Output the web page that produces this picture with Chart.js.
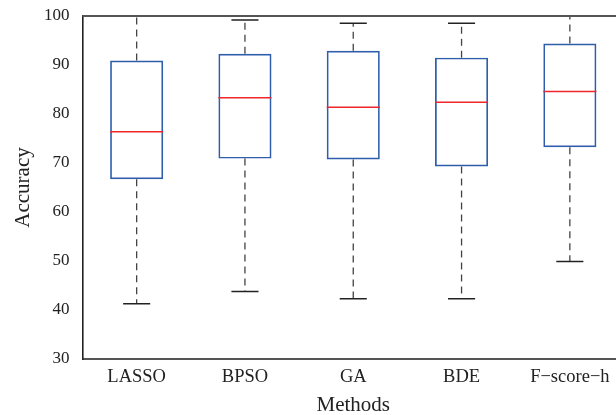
<!DOCTYPE html>
<html>
<head>
<meta charset="utf-8">
<script src="https://cdn.jsdelivr.net/npm/chart.js@4"></script>
<style>
  html, body { margin: 0; padding: 0; background: #fff; overflow: hidden; }
  #wrap { width: 616px; height: 415px; overflow: hidden; }
  canvas { display: block; }
</style>
</head>
<body>
<div id="wrap"><canvas id="boxChart" width="632" height="415"></canvas></div>
<script>
// box plot statistics per method
const methods = ["LASSO", "BPSO", "GA", "BDE", "F\u2212score\u2212h"];
const whiskerLow = [41.3, 43.8, 42.3, 42.3, 49.9];
const q1 = [66.7, 70.9, 70.7, 69.3, 73.2];
const median = [76.4, 83.3, 81.4, 82.4, 84.6];
const q3 = [90.9, 92.3, 92.9, 91.5, 94.4];
const whiskerHigh = [100, 99.2, 98.5, 98.5, 100];
const yTicks = [30, 40, 50, 60, 70, 80, 90, 100];

const FONT = "'Liberation Serif', 'DejaVu Serif', serif";
const BOX_FRAC = 0.49;
const CAP_FRAC = 0.25;

// whiskers, caps, medians and the top frame line
const boxExtras = {
    id: "boxExtras",
    afterDatasetsDraw(chart) {
        const { ctx, chartArea, scales: { x, y } } = chart;
        const catW = (chartArea.right - chartArea.left) / methods.length;
        const boxHalf = catW * BOX_FRAC / 2;
        const capHalf = catW * CAP_FRAC / 2;

        ctx.save();
        methods.forEach((m, i) => {
            const cx = x.getPixelForValue(i);

            // dashed whiskers
            ctx.strokeStyle = "#444";
            ctx.lineWidth = 1.3;
            ctx.setLineDash([7, 5]);
            ctx.beginPath();
            ctx.moveTo(cx, y.getPixelForValue(q3[i]));
            ctx.lineTo(cx, y.getPixelForValue(whiskerHigh[i]));
            ctx.moveTo(cx, y.getPixelForValue(q1[i]));
            ctx.lineTo(cx, y.getPixelForValue(whiskerLow[i]));
            ctx.stroke();
            ctx.setLineDash([]);

            // caps
            ctx.strokeStyle = "#222";
            ctx.lineWidth = 1.5;
            ctx.beginPath();
            [whiskerHigh[i], whiskerLow[i]].forEach((v) => {
                const py = y.getPixelForValue(v);
                ctx.moveTo(cx - capHalf, py);
                ctx.lineTo(cx + capHalf, py);
            });
            ctx.stroke();

            // median
            const my = y.getPixelForValue(median[i]);
            ctx.strokeStyle = "#f0262a";
            ctx.lineWidth = 1.5;
            ctx.beginPath();
            ctx.moveTo(cx - boxHalf, my);
            ctx.lineTo(cx + boxHalf, my);
            ctx.stroke();
        });

        // top frame
        ctx.strokeStyle = "#555";
        ctx.lineWidth = 2;
        ctx.beginPath();
        ctx.moveTo(chartArea.left, chartArea.top);
        ctx.lineTo(chartArea.right + 10, chartArea.top);
        ctx.stroke();
        ctx.restore();
    },
};

const ctx = document.getElementById("boxChart").getContext("2d");

new Chart(ctx, {
    type: "bar",
    data: {
        labels: methods,
        datasets: [
            {
                label: "Accuracy",
                data: q1.map((v, i) => [v, q3[i]]),
                backgroundColor: "rgba(255,255,255,0)",
                borderColor: "#2d5dab",
                borderWidth: 1.7,
                borderSkipped: false,
                barPercentage: BOX_FRAC,
                categoryPercentage: 1,
            },
        ],
    },
    options: {
        responsive: false,
        animation: false,
        layout: { padding: { top: 16, right: 8, bottom: 0, left: 0 } },
        plugins: {
            legend: { display: false },
            tooltip: { enabled: false },
        },
        scales: {
            x: {
                offset: true,
                grid: { display: false, drawTicks: false },
                border: { display: true, color: "#555", width: 2 },
                ticks: {
                    color: "#222",
                    padding: 7,
                    maxRotation: 0,
                    autoSkip: false,
                    font: { family: FONT, size: 18.5 },
                },
                title: {
                    display: true,
                    text: "Methods",
                    color: "#222",
                    font: { family: FONT, size: 21 },
                    padding: { top: 0, bottom: -3 },
                },
                afterFit: (scale) => { scale.height = 56; },
            },
            y: {
                min: 30,
                max: 100,
                afterBuildTicks: (scale) => {
                    scale.ticks = yTicks.map((v) => ({ value: v }));
                },
                grid: { display: false, drawOnChartArea: false, drawTicks: true, tickLength: 4, color: "#222" },
                border: { display: true, color: "#222", width: 1.6 },
                ticks: {
                    color: "#222",
                    padding: 9,
                    font: { family: FONT, size: 17 },
                },
                title: {
                    display: true,
                    text: "Accuracy",
                    color: "#222",
                    font: { family: FONT, size: 21 },
                    padding: { top: 11, bottom: 0 },
                },
                afterFit: (scale) => {
                    scale.width = 82.5;
                    // keep the plot top pinned to the layout padding
                    scale.paddingTop = 0;
                    scale.paddingBottom = 0;
                },
            },
        },
    },
    plugins: [boxExtras],
});
</script>
</body>
</html>
